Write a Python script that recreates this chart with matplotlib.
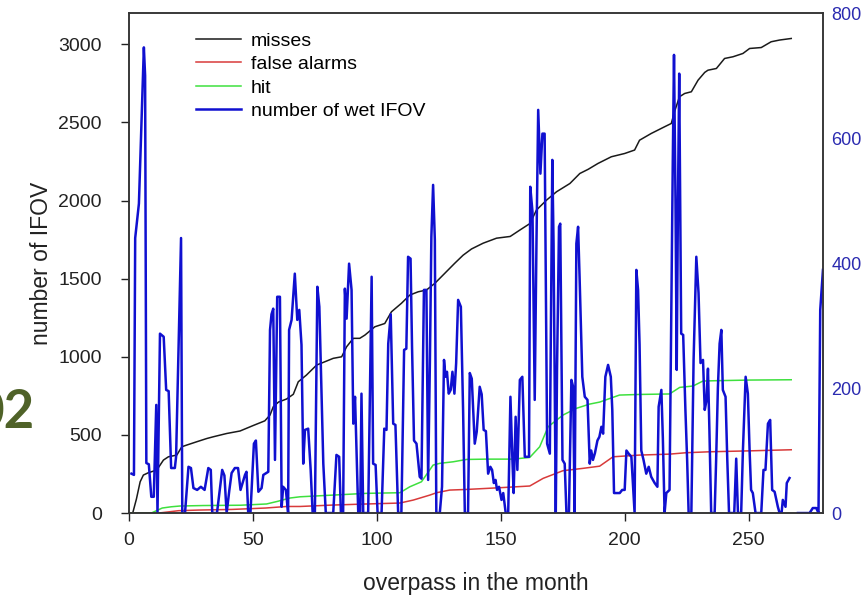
import numpy as np
import matplotlib
matplotlib.use("Agg")
import matplotlib.pyplot as plt

plt.rcParams["font.family"] = ["Liberation Sans", "DejaVu Sans"]

# cumulative counts (left axis)
misses_x = [0.5, 1.5, 3, 4.5, 5.8, 7.8, 11.2, 13.9, 15.9, 19.3, 21.3, 23.3, 27.3, 31.4, 34, 39.4,
            44.8, 50.1, 54.8, 56.9, 58.2, 60.3, 63.6, 66.3, 68.3, 71.6, 75.7, 79, 82.4, 85.8, 87.8,
            90.5, 93.1, 95.2, 99.2, 103.2, 105.9, 109.9, 113.3, 116.7, 120, 123.4, 127.4, 131.4,
            134.8, 138.2, 142.9, 148.3, 153.8, 157.8, 161.8, 164.4, 168.5, 172.5, 177.9, 181.9,
            185.3, 189.2, 194.6, 200, 204, 206, 210.7, 216.1, 218.8, 220.1, 222.1, 224.2, 226.9,
            229.6, 232.3, 233.6, 237, 240.3, 243.7, 247.7, 250.4, 255.1, 259.1, 262.5, 267.2]
misses_n = [0, 0, 90, 200, 243, 258, 275, 339, 360, 371, 424, 435, 456, 477, 488, 509,
            525, 560, 590, 627, 680, 710, 730, 760, 840, 883, 947, 968, 990, 1000, 1064,
            1118, 1118, 1139, 1192, 1213, 1288, 1342, 1395, 1416, 1427, 1470, 1534, 1598,
            1650, 1690, 1727, 1759, 1770, 1812, 1853, 1939, 2003, 2056, 2109, 2173,
            2200, 2237, 2280, 2301, 2323, 2386, 2429, 2472, 2493, 2568, 2664, 2685, 2696,
            2770, 2820, 2834, 2845, 2909, 2920, 2941, 2973, 2979, 3016, 3027, 3037]

false_x = [0.5, 12, 20, 28, 41.4, 55, 63.6, 69, 82, 95.8, 109.3, 114.7, 121.4, 124.1, 129.4,
           136.2, 149.6, 161.7, 167.1, 175.1, 183.2, 189.9, 195.3, 206, 218.1, 224.8, 234.2,
           250.4, 267.2]
false_n = [0, 0, 15, 19, 23, 32, 42, 42, 51, 58, 64, 83, 115, 130, 147,
           151, 162, 173, 222, 271, 286, 300, 360, 371, 377, 386, 392,
           398, 405]

hit_x = [0.5, 9, 13.4, 17, 20.6, 30, 45, 55.5, 60, 64.9, 69, 82.4, 95.8, 109.3, 113.3, 118,
         122.7, 125.4, 130.8, 136.2, 144.2, 155, 161.7, 165.7, 169.1, 175.1, 180.5, 185.8,
         189.9, 197.9, 206, 218.1, 222.2, 227.6, 231.6, 237, 250.4, 267.2]
hit_n = [0, 0, 32, 40, 45, 48, 50, 58, 75, 96, 104, 115, 126, 130, 168, 200,
         307, 318, 328, 343, 345, 345, 356, 424, 552, 627, 670, 697,
         710, 755, 759, 762, 804, 813, 845, 847, 851, 853]

# wet IFOV per overpass (right axis); nan marks the missing overpasses
wet_x = [1, 2, 2.5, 4, 6, 6.5, 7, 8, 9, 10, 11, 11.5, 12.5, 14, 15, 16, 17, 18.5, 19, 21,
         21.5, 22.6, 24, 25, 26, 27.5, 29, 30.5, 32, 33, 33.6, 35.5, 37.6, 38.5, 39.4, 40.5,
         41.4, 42.7, 44, 45, 46.8, 47.4, 48.1, 49, 50.4, 51.2, 52.2, 53.5, 54.2, 56.2, 56.9,
         57.5, 58.2, 58.9, 59.8, 60.9, 61.6, 62.2, 63.3, 64.2, 64.6, 65.6, 66.9, 67.9, 68.7,
         69.6, 70.3, 71, 72.3, 73.3, 74.1, 75, 76, 76.8, 77.7, 78.4, 79.4, 82.4, 83.7, 84.8,
         85.5, 86.4, 87.1, 87.8, 88.8, 89.8, 90.5, 91.2, 92.5, 93.3, 93.8, 94.5, 96.5, 97.9,
         98.5, 99.5, 100.3, 101.9, 103, 103.9, 104.6, 105.6, 106.6, 107.5, 108.6, 109.9, 111,
         111.9, 112.6, 113.6, 114.2, 115, 116, 117.3, 118, 119, 120, 120.7, 121.4, 122, 122.7,
         123.4, 124, 125.4, 126.3, 127.1, 127.7, 128.3, 129, 129.8, 130.5, 131.3, 132, 132.8,
         133.9, 134.8, 135.5, 136.8, 137.5, 138.3, 139.5, 140.3, 141.5, 142.3, 143.1, 144,
         144.9, 145.8, 146.5, 147.2, 147.9, 148.5, 149.3, 150.3, 151, 152, 153, 153.9, 154.7,
         155.2, 156, 156.7, 157.7, 158.7, 159.7, 161.4, 161.9, 162.8, 163.7, 164.4, 165.1,
         166, 166.8, 167.7, 168.7, 169.8, 170.8, 171.3, 172.2, 172.7, 173.5, 174, 174.9,
         175.8, 176.5, 177.5, 178.5, 179.2, 179.8, 180.5, 181.2, 181.8, 182.9, 183.9, 185,
         185.9, 186.5, 187.2, 188, 189, 189.8, 190.6, 191.3, 192.2, 193.3, 194.4, 195, 195.7,
         198, 199, 200, 200.7, 201.6, 202.7, 204, 204.7, 205.4, 206, 206.7, 207.6, 208.7,
         209.7, 210.7, 212.1, 213.2, 213.7, 214.8, 215.4, 216.1, 216.8, 218.1, 218.8, 219.4,
         219.9, 220.5, 221, 221.5, 222, 222.8, 223.6, 224.5, 225.2, 225.8, 226.9, 227.8,
         228.9, 229.8, 230.6, 231.6, 232.3, 233, 233.6, 234.2, 234.9, 236.3, 236.9, 237.6,
         238.3, 239, 239.6, 240.7, 241.4, 242.1, 244.2, 245, 245.7, 247, 247.7, 248.8, 249.7,
         250.4, 251, 251.7, 252.8, 255.1, 256, 256.8, 257.8, 258.7, 259.5, 260.5, 261.8,
         262.5, 263.3, 263.8, 264.9, 265.4, 266.5, 268, 269.9, 274.6, 275.9, 277.3, 278.2,
         278.9, 280]
wet_n = [63, 61, 440, 495, 745, 700, 80, 78, 26, 26, 173, 0, 287, 282, 197, 195, 72, 72, 90, 440,
         0, 0, 74, 72, 40, 37, 42, 37, 72, 69, 0, 0, 69, 60, 0, 37,
         64, 72, 72, 37, 61, 66, 0, 0, 111, 116, 34, 40, 61, 66, 293,
         318, 327, 85, 346, 346, 10, 42, 37, 0, 293, 309, 383, 309, 325,
         269, 79, 133, 135, 69, 0, 0, 362, 330, 186, 79, 0, 0, 93, 90,
         0, 0, 359, 311, 399, 357, 143, 186, 0, 0, 191, 0, 0, 378,
         79, 77, 0, 0, 135, 133, 271, 318, 143, 141, 0, 0, 261,
         263, 410, 407, 266, 116, 111, 58, 55, 357, 357, 53, 240, 442, 525,
         437, 0, 0, 42, 245, 218, 226, 191, 197, 226, 191, 240, 341,
         330, 165, 0, 0, 224, 215, 111, 130, 202, 190, 133, 131,
         63, 74, 69, 48, 53, 37, 42, 21, 32, 0, 0, 186, 85,
         32, 154, 69, 213, 218, 90, 90, 522, 482, 181, 431, 645,
         543, 607, 607, 111, 95, 565, 431, 0, 229, 458, 463, 85,
         79, 0, 0, 213, 202, 0, 431, 458, 378, 218, 186, 181,
         79, 100, 85, 96, 116, 122, 138, 127, 218, 237, 218, 165, 32,
         32, 37, 37, 100, 95, 90, 0, 389, 357, 270, 100, 85, 63,
         74, 58, 48, 42, 170, 197, 120, 0, 32, 37, 325, 560,
         733, 500, 229, 500, 703, 287, 285, 165, 85, 0, 0, 245,
         410, 352, 240, 245, 165, 180, 231, 130, 0, 0, 85, 200,
         271, 293, 197, 186, 85, 0, 0, 87, 0, 0, 100, 218, 191,
         100, 37, 32, 0, 0, 69, 69, 143, 149, 37, 34, 10,
         0, 0, 21, 10, 48, 56, np.nan, 0, 0, 8, 8, 0,
         325, 389]

fig = plt.figure(figsize=(8.64, 6.05), dpi=100)
ax = fig.add_axes([0.1493, 0.152, 0.8032, 0.8265])
ax2 = ax.twinx()

l1, = ax.plot(misses_x, misses_n, color="#1a1a1a", lw=1.1, label="misses")
l2, = ax.plot(false_x, false_n, color="#d83a3a", lw=1.1, label="false alarms")
l3, = ax.plot(hit_x, hit_n, color="#3ee03e", lw=1.1, label="hit")
l4, = ax2.plot(wet_x, wet_n, color="#1010d0", lw=1.8, label="number of wet IFOV")

ax.set_xlim(0, 280)
ax.set_ylim(0, 3200)
ax2.set_ylim(0, 800)
ax.set_xticks([0, 50, 100, 150, 200, 250])
ax.set_yticks([0, 500, 1000, 1500, 2000, 2500, 3000])
ax2.set_yticks([0, 200, 400, 600, 800])

ax.tick_params(axis="both", direction="out", length=5.5, width=1.0,
               labelsize=14, colors="#222222", pad=8)
ax.tick_params(axis="y", pad=14)
ax2.tick_params(axis="y", length=0, pad=6, labelsize=13, labelcolor="#2a2ab0")

for a in (ax, ax2):
    for s in a.spines.values():
        s.set_color("#333333")
        s.set_linewidth(1.1)

ax.set_xlabel("overpass in the month", fontsize=16.5, color="#222222", labelpad=17)
ax.set_ylabel("number of IFOV", fontsize=16.5, color="#222222", labelpad=4)

ax.legend(handles=[l1, l2, l3, l4], loc="upper left", bbox_to_anchor=(0.08, 0.985),
          frameon=False, fontsize=14, handlelength=2.3, handletextpad=0.5,
          labelspacing=0.3, borderaxespad=0.2)

fig.text(0.040, 0.318, "02", fontsize=38, fontweight="bold", color="#4f6228",
         ha="right", va="center", family=["Lato", "DejaVu Sans"])

fig.savefig("out.png", dpi=100)
